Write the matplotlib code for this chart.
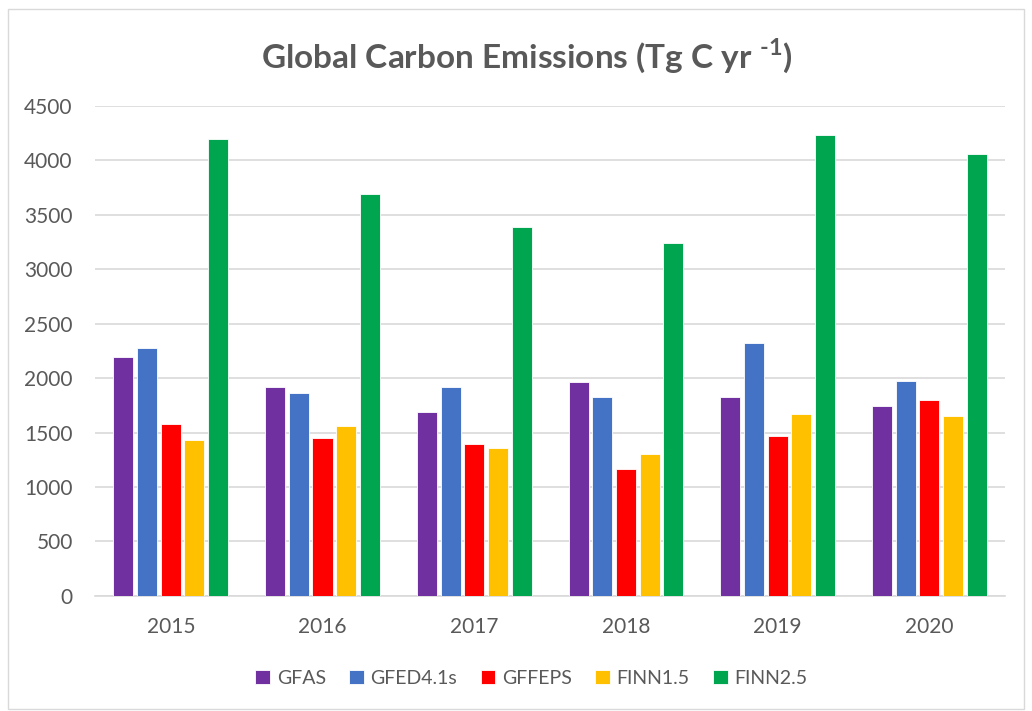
import matplotlib
matplotlib.use("Agg")
import matplotlib.pyplot as plt
import numpy as np
from matplotlib.patches import Rectangle

plt.rcParams['font.family'] = ['Lato', 'DejaVu Sans']
plt.rcParams['mathtext.fontset'] = 'custom'
plt.rcParams['mathtext.rm'] = 'Lato'
plt.rcParams['mathtext.bf'] = 'Lato:bold'

years = ['2015', '2016', '2017', '2018', '2019', '2020']
gfas = [2190, 1920, 1690, 1960, 1830, 1740]
gfed = [2280, 1865, 1920, 1830, 2318, 1976]
gffeps = [1578, 1450, 1397, 1161, 1471, 1795]
finn15 = [1434, 1560, 1360, 1305, 1666, 1651]
finn25 = [4195, 3692, 3386, 3242, 4232, 4057]

series = ['GFAS', 'GFED4.1s', 'GFFEPS', 'FINN1.5', 'FINN2.5']
values = [gfas, gfed, gffeps, finn15, finn25]
colors = ['#7030a0', '#4472c4', '#ff0000', '#ffc000', '#00a550']

txt = '#595959'
grid = '#d9d9d9'

fig = plt.figure(figsize=(10.32, 7.11), dpi=100)
ax = fig.add_axes([0.092, 0.162, 0.882, 0.689])

# thin frame round the whole chart
fig.patches.append(Rectangle((0.008, 0.003), 0.984, 0.985, transform=fig.transFigure,
                             fill=False, edgecolor=grid, linewidth=1))

x = np.arange(len(years))
step = 0.156
width = 0.132
for i, (name, vals, c) in enumerate(zip(series, values, colors)):
    ax.bar(x + (i - 2) * step, vals, width, color=c, label=name,
           edgecolor='white', linewidth=0.6, zorder=3)

ax.set_xlim(-0.5, len(years) - 0.5)
ax.set_ylim(0, 4500)
ax.set_yticks(np.arange(0, 4501, 500))
ax.set_xticks(x)
ax.set_xticklabels(years)
ax.yaxis.grid(True, color=grid, linewidth=1.2, zorder=0)
ax.set_axisbelow(True)
for s in ['top', 'right', 'left']:
    ax.spines[s].set_visible(False)
ax.spines['bottom'].set_color(grid)
ax.spines['bottom'].set_linewidth(1.2)
ax.tick_params(axis='both', length=0, labelsize=15, colors=txt)
ax.tick_params(axis='y', pad=16)
ax.tick_params(axis='x', pad=15)

fig.text(0.51, 0.922, "Global Carbon Emissions (Tg C yr $^{\\mathbf{\u20101}}$)",
         ha='center', va='center', fontsize=24, fontweight='bold', color=txt)

leg = fig.legend(loc='center', bbox_to_anchor=(0.515, 0.046), ncol=5, frameon=False,
                 fontsize=14, handlelength=0.75, handleheight=0.75, handletextpad=0.35,
                 columnspacing=1.2)
for t in leg.get_texts():
    t.set_color(txt)

fig.savefig('out.png', dpi=100)
